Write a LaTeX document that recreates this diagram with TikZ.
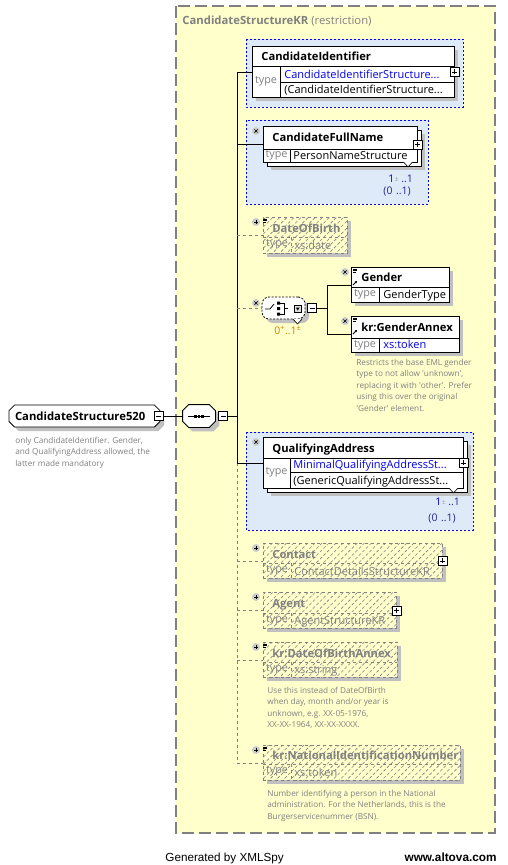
\documentclass[tikz,border=0pt]{standalone}
\usepackage{fontspec}
\setmainfont{Open Sans}
\newfontfamily\footfont{Liberation Sans}
\usetikzlibrary{shapes.misc,positioning,shadows,patterns.meta,arrows.meta}

\definecolor{bgyellow}{RGB}{255,255,204}
\definecolor{grpblue}{RGB}{222,234,247}
\definecolor{typeblue}{RGB}{0,0,235}
\definecolor{txtgray}{RGB}{128,128,128}
\definecolor{shadegray}{RGB}{192,192,192}
\definecolor{occorange}{RGB}{205,135,0}
\definecolor{occblue}{RGB}{40,40,150}

\begin{document}
\begin{tikzpicture}[x=1pt, y=-1pt, line width=0.8pt]

        % all sizes are pixels of the XMLSpy picture
        \tikzset{
            boxshadow/.style={drop shadow={shadow xshift=4pt, shadow yshift=-4pt, fill=shadegray, opacity=1}},
            elembox/.style 2 args={draw, fill=white, anchor=north west, inner sep=0pt, minimum width=#1, minimum height=#2},
            hatchbox/.style 2 args={draw=txtgray, dashed, fill=bgyellow, boxshadow, anchor=north west, inner sep=0pt,
                minimum width=#1, minimum height=#2,
                postaction={pattern={Lines[angle=45, distance=5pt, line width=0.6pt]}, pattern color=txtgray}},
            grpbox/.style={draw=blue, dash pattern=on 2pt off 2pt, fill=grpblue},
            hline/.style={draw=txtgray, dashed},
            optline/.style={draw=txtgray, dash pattern=on 3pt off 3pt},
            ename/.style={anchor=base west, inner sep=0pt, font=\bfseries\fontsize{11.2}{13}\selectfont},
            hname/.style={ename, text=txtgray},
            tlabel/.style={inner sep=0pt, text=txtgray, font=\fontsize{10.8}{13}\selectfont},
            tval/.style={anchor=base west, inner sep=0pt, font=\fontsize{11}{13}\selectfont},
            note/.style={anchor=north west, inner sep=0pt, align=left, text=txtgray, font=\fontsize{8.2}{11.5}\selectfont},
            occ/.style={anchor=base west, inner sep=0pt, font=\fontsize{10.5}{12}\selectfont},
            minusbtn/.style={draw, fill=white, minimum size=9pt, inner sep=0pt,
                path picture={\draw ([xshift=2pt]path picture bounding box.west) -- ([xshift=-2pt]path picture bounding box.east);}},
            plusbtn/.style={draw, fill=white, minimum size=9pt, inner sep=0pt,
                path picture={\draw ([xshift=2pt]path picture bounding box.west) -- ([xshift=-2pt]path picture bounding box.east)
                    ([yshift=-2pt]path picture bounding box.north) -- ([yshift=2pt]path picture bounding box.south);}},
            pcirc/.style={circle, fill=gray!40, minimum size=8pt, inner sep=0pt,
                path picture={\draw[line width=0.9pt] ([xshift=-2.2pt]path picture bounding box.center) -- ([xshift=2.2pt]path picture bounding box.center)
                    ([yshift=-2.2pt]path picture bounding box.center) -- ([yshift=2.2pt]path picture bounding box.center);}},
            xcirc/.style={circle, fill=gray!40, minimum size=8pt, inner sep=0pt,
                path picture={\draw[line width=0.7pt] ([shift={(-1.6pt,-1.6pt)}]path picture bounding box.center) -- ([shift={(1.6pt,1.6pt)}]path picture bounding box.center)
                    ([shift={(-1.6pt,1.6pt)}]path picture bounding box.center) -- ([shift={(1.6pt,-1.6pt)}]path picture bounding box.center);}},
            rootbox/.style={chamfered rectangle, chamfered rectangle xsep=2pt, draw, fill=white, boxshadow,
                minimum height=22pt, text width=139pt, align=left, inner xsep=4pt, inner ysep=0pt,
                font=\bfseries\fontsize{11.3}{13}\selectfont},
            seqbox/.style={rectangle, minimum width=32pt, minimum height=22pt, inner sep=0pt},
            choicebox/.style={rectangle, rounded corners=7pt, draw, dash pattern=on 2pt off 1.5pt, fill=white, boxshadow,
                minimum width=43pt, minimum height=22pt, inner sep=0pt},
            docicon/.pic={\draw[line width=0.6pt] (0,0) -- (4,0) (0,1.5) -- (4,1.5) (0,3) -- (3,3);},
            refarrow/.pic={\draw[line width=0.8pt, -{Stealth[length=2.2pt, width=2.5pt]}] (0,0) -- (4,-4);},
            chevron/.pic={\draw[fill=white, line width=0.6pt] (-4.5,0) -- (0,5) -- (4.5,0);}
        }

        \useasboundingbox (0,0) rectangle (507,865);

        % restriction area
        \draw[draw=txtgray, line width=1.2pt, dash pattern=on 12pt off 5pt, fill=bgyellow] (176,6) rectangle (495,833);
        \node[anchor=base west, inner sep=0pt, text=txtgray, font=\fontsize{11.3}{13}\selectfont] (title) at (182,24)
            {\textbf{CandidateStructureKR} (restriction)};

        % root element and its sequence
        \node[rootbox] (root) at (84.5,416) {CandidateStructure520};
        \node[minusbtn] (rootbtn) at ([xshift=-1.5pt]root.east) {};
        \node[note] (rootnote) at (15,436.5)
            {only CandidateIdentifier. Gender,\\and QualifyingAddress allowed, the\\latter made mandatory};

        \node[seqbox] (seq) at (199,416) {};
        \draw[fill=white, boxshadow] ([xshift=6pt]seq.north west) -- ([xshift=-6pt]seq.north east)
            -- ([yshift=-6pt]seq.north east) -- ([yshift=6pt]seq.south east) -- ([xshift=-6pt]seq.south east)
            -- ([xshift=6pt]seq.south west) -- ([yshift=6pt]seq.south west) -- ([yshift=-6pt]seq.north west) -- cycle;
        \node[minusbtn, right=3pt of seq] (seqbtn) {};
        \draw ([xshift=-11pt]seq.center) -- ([xshift=11pt]seq.center);
        \foreach \dx in {-3.6,0,3.6}
            \fill ([xshift=\dx pt]seq.center) +(-1.3pt,-1.5pt) rectangle +(1.3pt,1.5pt);
        \coordinate (sp) at (237,416);

        % CandidateIdentifier
        \draw[grpbox] (246,39) rectangle (463,107);
        \node[elembox={202pt}{51pt}, boxshadow] (CI) at (252,46) {};
        \draw (252,66) -- (454,66) (280,66) -- (280,97) (280,82) -- (454,82);
        \node[ename] at (261,60) {CandidateIdentifier};
        \node[tlabel] at (266,81.5) {type};
        \node[tval, text=typeblue] at (284,78) {CandidateIdentifierStructure...};
        \node[tval] at (284,93.5) {(CandidateIdentifierStructure...};
        \node[plusbtn] at (CI.east) {};

        % CandidateFullName
        \draw[grpbox] (246,120) rectangle (428,204);
        \node[elembox={154pt}{36pt}, boxshadow] (CFNback) at (267,130) {};
        \node[elembox={154pt}{36pt}] (CFN) at (263,126) {};
        \draw (263,149) -- (417,149) (290,149) -- (290,162);
        \node[ename] at (272,141) {CandidateFullName};
        \node[tlabel] at (276.5,155) {type};
        \node[tval] at (293,159.5) {PersonNameStructure};
        \node[plusbtn] at (CFN.east) {};
        \node[xcirc] at (256,131) {};
        \pic at (408,162) {chevron};
        \node[occ, text=typeblue] at (388,182) {1};
        \node[occ, text=gray!70] at (394.5,181) {\fontsize{7}{7}\selectfont ±};
        \node[occ, text=occblue] at (401,182) {..1};
        \node[occ, text=occblue] at (383,194) {(0\,\,..1)};

        % DateOfBirth
        \node[hatchbox={84pt}{36pt}] (DOB) at (263,217) {};
        \draw[hline] (263,237) -- (347,237) (291,237) -- (291,253);
        \node[hname] at (272,232) {DateOfBirth};
        \node[tlabel] at (277,244.5) {type};
        \node[tval, text=txtgray] at (294,249) {xs:date};
        \node[pcirc] at (256,222) {};
        \pic at (263,219) {docicon};

        % choice of Gender and kr:GenderAnnex
        \node[choicebox] (ch) at (283.5,308) {};
        \node[minusbtn, right=2pt of ch] (chbtn) {};
        \node[xcirc] at (256,303) {};
        \draw (265,309) -- (270,309) -- (274,304);
        \fill (277,301.5) rectangle (280,304.5) (277,307) rectangle (280,310) (277,312.5) rectangle (280,315.5);
        \draw (280,303) -- (284,303) -- (284,314) -- (280,314) (284,308.5) -- (288,308.5);
        \draw[fill=gray!25, line width=0.5pt] (294.5,305.5) rectangle (301,312);
        \fill (295.8,307.5) -- (299.7,307.5) -- (297.75,310.5) -- cycle;
        \pic at (297.5,319) {chevron};
        \node[occ, text=occorange] at (274,334) {0\textsuperscript{+}..1\textsuperscript{±}};
        \coordinate (cj) at (327,308);

        \node[elembox={98pt}{35pt}, boxshadow] (G) at (351,267) {};
        \draw (351,287) -- (449,287) (379,287) -- (379,302);
        \node[ename] at (361,281) {Gender};
        \node[tlabel] at (365,294.5) {type};
        \node[tval] at (383,298.5) {GenderType};
        \node[xcirc] at (345,272) {};
        \pic at (353,269) {docicon};
        \pic at (353,285) {refarrow};

        \node[elembox={108pt}{36pt}, boxshadow] (GA) at (351,316) {};
        \draw (351,338) -- (459,338) (379,338) -- (379,352);
        \node[ename] at (361,331) {kr:GenderAnnex};
        \node[tlabel] at (365,345) {type};
        \node[tval, text=typeblue] at (383,348.5) {xs:token};
        \node[xcirc] at (345,321) {};
        \pic at (353,318) {docicon};
        \pic at (353,334) {refarrow};
        \node[note] (GAnote) at (356,358.5)
            {Restricts the base EML gender\\type to not allow \textquotesingle unknown\textquotesingle,\\replacing it with \textquotesingle other\textquotesingle. Prefer\\using this over the original\\\textquotesingle Gender\textquotesingle{} element.};

        % QualifyingAddress
        \draw[grpbox] (246,432) rectangle (473,530);
        \node[elembox={200pt}{51pt}, boxshadow] (QAback) at (267,441) {};
        \node[elembox={200pt}{51pt}] (QA) at (263,437) {};
        \draw (263,458) -- (463,458) (290,458) -- (290,488) (290,472) -- (463,472);
        \node[ename] at (272,452) {QualifyingAddress};
        \node[tlabel] at (276.5,472.5) {type};
        \node[tval, text=typeblue] at (293,468.5) {MinimalQualifyingAddressSt...};
        \node[tval] at (293,484.5) {(GenericQualifyingAddressSt...};
        \node[plusbtn] at (QA.east) {};
        \node[xcirc] at (256,442) {};
        \pic at (453.5,488) {chevron};
        \node[occ, text=typeblue] at (435,505) {1};
        \node[occ, text=gray!70] at (441.5,504) {\fontsize{7}{7}\selectfont ±};
        \node[occ, text=occblue] at (448,505) {..1};
        \node[occ, text=occblue] at (428,521) {(0\,\,..1)};

        % Contact
        \node[hatchbox={179pt}{35pt}] (CO) at (263,543) {};
        \draw[hline] (263,563) -- (442,563) (291,563) -- (291,578);
        \node[hname] at (272,558) {Contact};
        \node[tlabel] at (277,570.5) {type};
        \node[tval, text=txtgray] at (294,575) {ContactDetailsStructureKR};
        \node[plusbtn] at (CO.east) {};
        \node[pcirc] at (256,548) {};

        % Agent
        \node[hatchbox={133pt}{36pt}] (AG) at (263,592) {};
        \draw[hline] (263,613) -- (396,613) (291,613) -- (291,628);
        \node[hname] at (272,607) {Agent};
        \node[tlabel] at (277,620) {type};
        \node[tval, text=txtgray] at (294,624.5) {AgentStructureKR};
        \node[plusbtn] at (AG.east) {};
        \node[pcirc] at (256,597) {};

        % kr:DateOfBirthAnnex
        \node[hatchbox={134pt}{35pt}] (DOBA) at (263,642) {};
        \draw[hline] (263,662) -- (397,662) (291,662) -- (291,677);
        \node[hname] at (272,657) {kr:DateOfBirthAnnex};
        \node[tlabel] at (277,669) {type};
        \node[tval, text=txtgray] at (294,673.5) {xs:string};
        \node[pcirc] at (256,647) {};
        \pic at (263,644) {docicon};
        \node[note] (DOBAnote) at (267,686.5)
            {Use this instead of DateOfBirth\\when day, month and/or year is\\unknown, e.g. XX-05-1976,\\XX-XX-1964, XX-XX-XXXX.};

        % kr:NationalIdentificationNumber
        \node[hatchbox={197pt}{35pt}] (NIN) at (263,745) {};
        \draw[hline] (263,764) -- (460,764) (291,764) -- (291,780);
        \node[hname] at (272,759.5) {kr:NationalIdentificationNumber};
        \node[tlabel] at (277,771.5) {type};
        \node[tval, text=txtgray] at (294,776) {xs:token};
        \node[pcirc] at (256,750) {};
        \pic at (263,747) {docicon};
        \node[note] (NINnote) at (267,789.5)
            {Number identifying a person in the National\\administration. For the Netherlands, this is the\\Burgerservicenummer (BSN).};

        % connectors
        \draw (rootbtn) -- (seq);
        \draw (seqbtn) -- (sp);
        \draw (sp |- CI.west) -- (sp |- QA.west);
        \draw[optline] (sp |- QA.west) -- (sp |- NIN.west);
        \draw (sp |- CI.west) -- (CI.west);
        \draw (sp |- CFN.west) -- (CFN.west);
        \draw[optline] (sp |- DOB.west) -- (DOB.west);
        \draw[optline] (sp |- ch.west) -- (ch.west);
        \draw (sp |- QA.west) -- (QA.west);
        \draw[optline] (sp |- CO.west) -- (CO.west);
        \draw[optline] (sp |- AG.west) -- (AG.west);
        \draw[optline] (sp |- DOBA.west) -- (DOBA.west);
        \draw[optline] (sp |- NIN.west) -- (NIN.west);
        \draw (chbtn) -- (cj);
        \draw (cj |- G.west) -- (cj |- GA.west);
        \draw (cj |- G.west) -- (G.west);
        \draw (cj |- GA.west) -- (GA.west);

        % footer
        \node[anchor=base west, inner sep=0pt, font=\footfont\fontsize{11.7}{13}\selectfont] (gen) at (165,861) {Generated by XMLSpy};
        \node[anchor=base east, inner sep=0pt, font=\footfont\bfseries\fontsize{11.8}{13}\selectfont] (web) at (497,861) {www.altova.com};

\end{tikzpicture}
\end{document}
